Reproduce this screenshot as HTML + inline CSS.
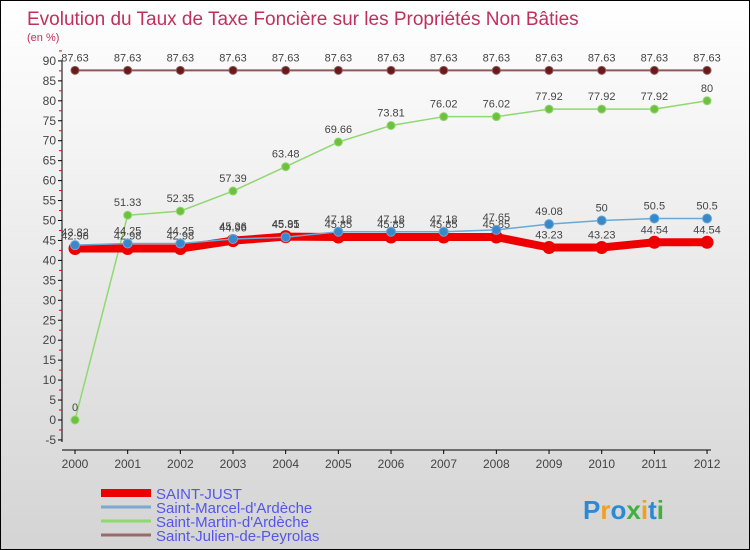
<!DOCTYPE html>
<html><head><meta charset="utf-8"><style>
body{margin:0;}
#c{width:748px;height:548px;border:1px solid #000;background:linear-gradient(#fff,#d4d4d4);position:relative;overflow:hidden;font-family:"Liberation Sans",sans-serif;}
</style></head><body>
<div id="c">
<svg id="s" width="748" height="548"></svg>
</div>
<script>
const years=["2000","2001","2002","2003","2004","2005","2006","2007","2008","2009","2010","2011","2012"];
const yTicks=[-5,0,5,10,15,20,25,30,35,40,45,50,55,60,65,70,75,80,85,90];
const stJust=[42.98,42.98,42.98,44.96,45.95,45.85,45.85,45.85,45.85,43.23,43.23,44.54,44.54];
const stMarcel=[43.82,44.25,44.25,45.36,45.81,47.18,47.18,47.18,47.65,49.08,50,50.5,50.5];
const stMartin=[0,51.33,52.35,57.39,63.48,69.66,73.81,76.02,76.02,77.92,77.92,77.92,80];
const stJulien=[87.63,87.63,87.63,87.63,87.63,87.63,87.63,87.63,87.63,87.63,87.63,87.63,87.63];
const names=["SAINT-JUST","Saint-Marcel-d'Ardèche","Saint-Martin-d'Ardèche","Saint-Julien-de-Peyrolas"];
const NS="http://www.w3.org/2000/svg",s=document.getElementById('s');
const X=i=>74+i*52.67, Y=v=>419-v*3.99;
function el(t,a,p){const e=document.createElementNS(NS,t);for(const k in a)e.setAttribute(k,a[k]);(p||s).appendChild(e);return e;}
function tx(x,y,str,a){const e=el('text',Object.assign({x:x,y:y},a));e.textContent=str;return e;}
let t=tx(26,24,"Evolution du Taux de Taxe Foncière sur les Propriétés Non Bâties",{fill:"#c0305a","font-size":19});

t=tx(26,40,"(en %)",{fill:"#c0305a","font-size":11});

let a=el('line',{x1:61,y1:Y(90),x2:61,y2:Y(-5)+2,stroke:"#000"});

a=el('line',{x1:61,y1:449,x2:710,y2:449,stroke:"#000"});

yTicks.forEach(v=>{el('line',{x1:57,x2:61,y1:Y(v),y2:Y(v),stroke:"#000"});
 el('line',{x1:58,x2:61,y1:Y(v+2.5),y2:Y(v+2.5),stroke:"#e00"});
 const l=tx(55,Y(v)+4,String(v),{fill:"#444","font-size":12,"text-anchor":"end"});
 });
years.forEach((y,i)=>{el('line',{x1:X(i),x2:X(i),y1:449,y2:453,stroke:"#000"});
 const l=tx(X(i),467,y,{fill:"#444","font-size":12,"text-anchor":"middle"});
 });
function series(d,col,w,r,dot,name){
 const g=el('g',{});
 el('polyline',{points:d.map((v,i)=>X(i)+","+Y(v)).join(" "),fill:"none",stroke:col,"stroke-width":w,"stroke-linejoin":"round"},g);
 d.forEach((v,i)=>{const c=el('circle',{cx:X(i),cy:Y(v),r:r,fill:dot,stroke:col},g);
  
  const l=tx(X(i),Y(v)-9,String(v),{fill:"#444","font-size":11,"text-anchor":"middle"},g);
  });
}
series(stJulien,"#8a5a5a",2,4,"#6a1a1a","series-saint-julien");
series(stMartin,"#90d870",1.5,4,"#70c040","series-saint-martin");
series(stJust,"#ee0000",8,6,"#ee0000","series-saint-just");
series(stMarcel,"#6aa8d8",1.5,4.5,"#3a88c8","series-saint-marcel");
const lc=["#ee0000","#7aaad0","#90d870","#9a6a6a"],lw=[8,3,3,3];
names.forEach((n,i)=>{const y=492+i*14;
 const g=el('g',{});
 el('line',{x1:100,x2:150,y1:y,y2:y,stroke:lc[i],"stroke-width":lw[i]},g);
 tx(155,y+6,n,{fill:"#5555ee","font-size":15},g);});
const p=tx(582,518,"",{"font-size":26,"font-weight":"bold"});

[["P","#2a8ad8"],["r","#f0a020"],["o","#2a8ad8"],["x","#40b040"],["i","#f0a020"],["t","#2a8ad8"],["i","#40b040"]].forEach(([c,f])=>{const ts=el('tspan',{fill:f},p);ts.textContent=c;});
</script>
</body></html>
